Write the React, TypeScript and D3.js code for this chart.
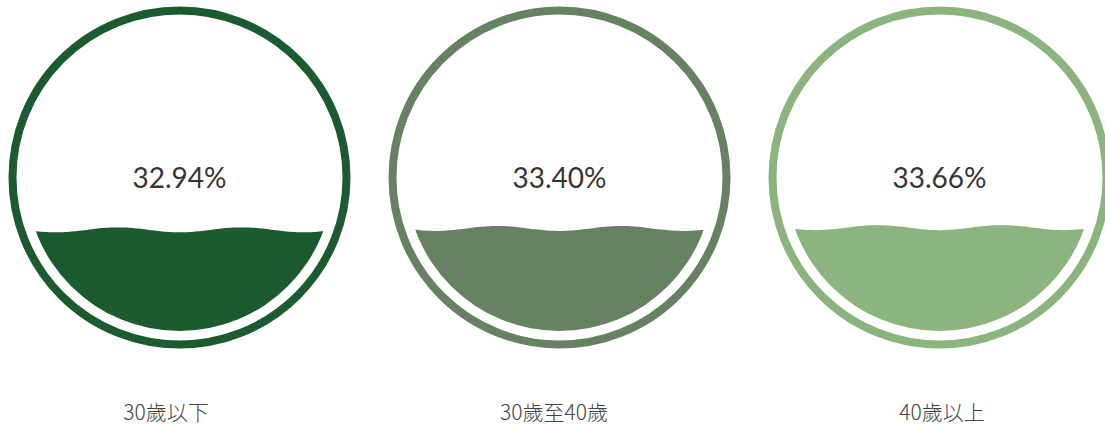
import React from "react";
import * as d3 from "d3";

const categories = ["30歲以下", "30歲至40歲", "40歲以上"];
const values = [32.94, 33.4, 33.66];
const valueLabels = ["32.94%", "33.40%", "33.66%"];
const colors = ["#1c5a2f", "#668262", "#8cb47e"];

const W = 1105;
const H = 426;
const CY = 177.5;
const R_RING = 167;
const RING_W = 8;
const R_FILL = 153.5;
const WAVE_AMP = 2.5;
const WAVE_LEN = 124;

export default function App() {
  const xCircle = d3.scalePoint<string>().domain(categories).range([179.5, 939.5]);
  const xLabel = d3.scalePoint<string>().domain(categories).range([166, 942]);
  const level = d3.scaleLinear().domain([0, 100]).range([CY + R_FILL, CY - R_FILL]);

  return (
    <svg
      width={W}
      height={H}
      style={{ position: "absolute", left: 0, top: 0, background: "#fff" }}
    >
      <defs>
        {categories.map((c, i) => (
          <clipPath id={`clip${i}`} key={c}>
            <circle cx={xCircle(c)!} cy={CY} r={R_FILL} />
          </clipPath>
        ))}
      </defs>
      {categories.map((c, i) => {
        const cx = xCircle(c)!;
        const lv = level(values[i]);
        const xs = d3.range(cx - R_FILL - 2, cx + R_FILL + 3, 2);
        const area = d3
          .area<number>()
          .x((x) => x)
          .y0(CY + R_FILL + 5)
          .y1((x) => lv + WAVE_AMP * Math.cos((2 * Math.PI * (x - cx)) / WAVE_LEN))
          .curve(d3.curveBasis);
        return (
          <g key={c}>
            <circle cx={cx} cy={CY} r={R_RING} fill="none" stroke={colors[i]} strokeWidth={RING_W} />
            <path d={area(xs)!} fill={colors[i]} clipPath={`url(#clip${i})`} />
            <text
              x={cx}
              y={CY + 10}
              textAnchor="middle"
              fontFamily="Lato, 'Noto Sans', sans-serif"
              fontWeight={400}
              fontSize={28}
              fill="#3a3535"
            >
              {valueLabels[i]}
            </text>
            <text
              x={xLabel(c)!}
              y={420}
              textAnchor="middle"
              fontFamily="'Noto Sans CJK TC', 'Noto Sans', sans-serif"
              fontWeight={300}
              fontSize={21}
              fill="#444"
            >
              {c}
            </text>
          </g>
        );
      })}
    </svg>
  );
}
